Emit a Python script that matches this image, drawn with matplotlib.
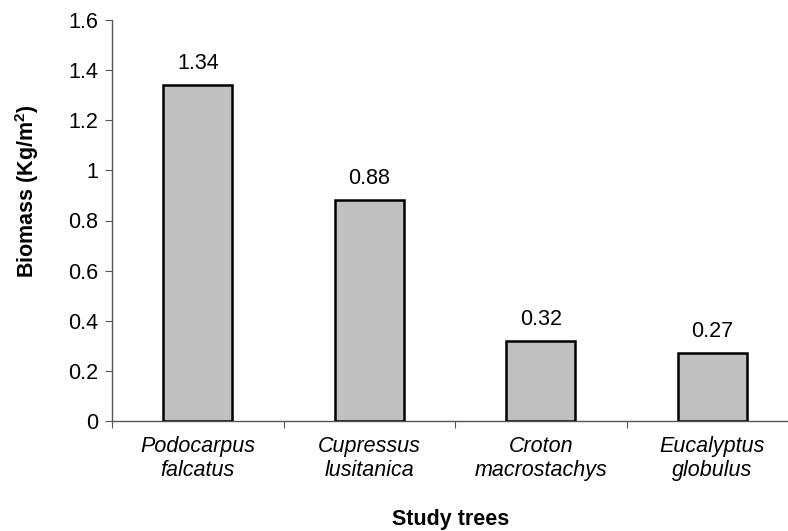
import matplotlib
matplotlib.use("Agg")
import matplotlib.pyplot as plt
import numpy as np

# biomass per study tree species
species = ["Podocarpus\nfalcatus", "Cupressus\nlusitanica", "Croton\nmacrostachys", "Eucalyptus\nglobulus"]
biomass = [1.34, 0.88, 0.32, 0.27]
labels = ["1.34", "0.88", "0.32", "0.27"]

plt.rcParams['font.family'] = ['Liberation Sans', 'DejaVu Sans']
fs = 15.5

fig = plt.figure(figsize=(7.88, 5.31), dpi=100)
# axes run a little past the right edge of the figure
ax = fig.add_axes([112 / 788, 110 / 531, 686 / 788, 401 / 531])

x = np.arange(len(species))
ax.bar(x, biomass, width=0.4, color="#c0c0c0", edgecolor="black", linewidth=1.8, zorder=3)

for xi, v, t in zip(x, biomass, labels):
    ax.annotate(t, (xi, v), xytext=(0, 8), textcoords="offset points",
                ha="center", va="bottom", fontsize=fs)

ax.set_xlim(-0.5, 3.5)
ax.set_ylim(0, 1.6)
ax.set_yticks(np.arange(0, 1.61, 0.2))
ax.set_yticklabels(["0", "0.2", "0.4", "0.6", "0.8", "1", "1.2", "1.4", "1.6"])

# category ticks sit between the bars, names centred under them
ax.set_xticks(np.arange(-0.5, 3.6, 1.0))
ax.set_xticklabels([])
ax.set_xticks(x, minor=True)
ax.set_xticklabels(species, minor=True, fontstyle="italic", fontsize=fs)
ax.tick_params(axis="x", which="minor", length=0, pad=11)
ax.tick_params(axis="x", which="major", length=5, color="#555555", direction="out")
ax.tick_params(axis="y", length=5, color="#555555", labelsize=fs, pad=5)

for s in ["top", "right"]:
    ax.spines[s].set_visible(False)
for s in ["left", "bottom"]:
    ax.spines[s].set_color("#555555")
    ax.spines[s].set_linewidth(1.0)

ax.set_ylabel("Biomass (Kg/m$^\\mathregular{2}$)", fontsize=fs, fontweight="bold")
ax.yaxis.set_label_coords(-(112 - 27) / 686, (421 - 191) / 401)
ax.set_xlabel("Study trees", fontsize=fs, fontweight="bold")
ax.xaxis.set_label_coords((451 - 112) / 686, -(519 - 421) / 401)
ax.xaxis.label.set_va("center")
ax.yaxis.label.set_va("center")

fig.savefig("out.png", dpi=100)
